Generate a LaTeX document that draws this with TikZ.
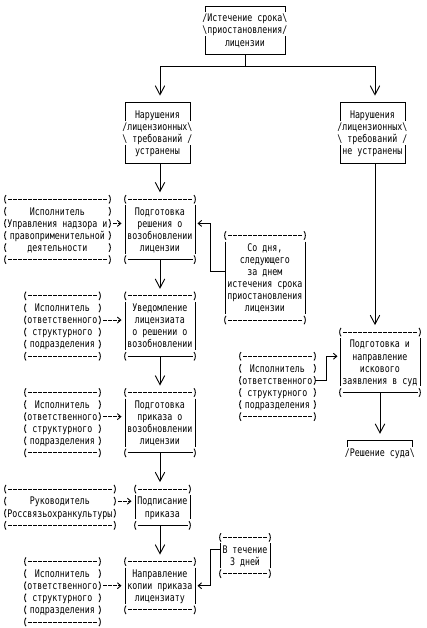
\documentclass[tikz,border=0pt]{standalone}
\usepackage{fontspec}
\usetikzlibrary{arrows.meta}
\newfontfamily\boxfontfam[FakeStretch=0.791]{DejaVu Sans Mono}
\newcommand\boxfont{\boxfontfam\fontsize{10.5pt}{12.077pt}\selectfont}
\newcommand\tstrut{\rule[-2.24pt]{0pt}{12.077pt}}
\newcommand\bxl[1]{\hbox to 0pt{\hss\tstrut#1\hss}}
\newcommand\bsl{\textbackslash}
\tikzset{
  bline/.style={line width=0.9pt},
  dline/.style={line width=0.9pt, dash pattern=on 3.5pt off 1.5pt, dash phase=4.25pt},
  boxnode/.style={rectangle, inner sep=0pt, outer sep=0pt, font=\boxfont},
  varrow/.style={bline, -{Straight Barb[length=9pt,width=9.5pt]}, shorten >=7pt},
  darrow/.style={bline, dash pattern=on 3.5pt off 1.5pt, -{Straight Barb[length=3.5pt,width=6pt]}, shorten <=3.25pt, shorten >=3.5pt},
  larrow/.style={bline, -{Straight Barb[length=3.5pt,width=6pt]}, shorten >=2.5pt}
}
% box node: name, left col, right col, top row, bottom row, lines
\newcommand\bx[6]{\node[boxnode, minimum width={(#3-#2)*5pt}, minimum height={(#5-#4)*12.077pt}] (#1) at ({(#2+#3)/2+1},{(#4+#5)/2+0.5}) {\vbox{\offinterlineskip#6}};}
\newcommand\mypl[2]{\draw[bline] ([shift={(1pt,4.2pt)}]{#1+1},{#2+0.5}) .. controls +(-1.8pt,-2pt) and +(-1.8pt,2pt) .. ([shift={(1pt,-4.2pt)}]{#1+1},{#2+0.5});}
\newcommand\mypr[2]{\draw[bline] ([shift={(-1pt,4.2pt)}]{#1+1},{#2+0.5}) .. controls +(1.8pt,-2pt) and +(1.8pt,2pt) .. ([shift={(-1pt,-4.2pt)}]{#1+1},{#2+0.5});}
\newcommand\execborder[4]{%
  \foreach \rr in {#3,...,#4}{\mypl{#1}{\rr}\mypr{#2}{\rr}}%
  \draw[dline] ({#1+1.5},{#3+0.5}) -- ({#2+0.5},{#3+0.5});
  \draw[dline] ({#1+1.5},{#4+0.5}) -- ({#2+0.5},{#4+0.5});}
\newcommand\chainborder[5]{%
  \mypl{#1}{#3}\mypr{#2}{#3}\mypl{#1}{#4}\mypr{#2}{#4}%
  \draw[dline] ({#1+1.5},{#3+0.5}) -- ({#2+0.5},{#3+0.5});
  \draw[#5] ({#1+1.5},{#4+0.5}) -- ({#2+0.5},{#4+0.5});
  \draw[bline] ({#1+1},{#3+1}) -- ({#1+1},{#4});
  \draw[bline] ({#2+1},{#3+1}) -- ({#2+1},{#4});}
\begin{document}
\begin{tikzpicture}[x=5pt, y=-12.077pt]
\fill[white] (0,0) rectangle (85.4,52);
\useasboundingbox (0,0) rectangle (85.4,52);

% ---- nodes ----
\bx{top}{40}{56}{0}{4}{\bxl{/Истечение срока\bsl}\bxl{\bsl приостановления/}\bxl{лицензии}}
\bx{nl}{24}{37}{8}{13}{\bxl{Нарушения}\bxl{/лицензионных\bsl}\bxl{\bsl{} требований /}\bxl{устранены}}
\bx{nr}{67}{80}{8}{13}{\bxl{Нарушения}\bxl{/лицензионных\bsl}\bxl{\bsl{} требований /}\bxl{не устранены}}
\bx{e1}{0}{21}{16}{21}{\bxl{Исполнитель}\bxl{Управления надзора и}\bxl{правоприменительной}\bxl{деятельности}}
\bx{p1}{24}{38}{16}{21}{\bxl{Подготовка}\bxl{решения о}\bxl{возобновлении}\bxl{лицензии}}
\bx{sd}{44}{60}{19}{26}{\bxl{Со дня,}\bxl{следующего}\bxl{за днем}\bxl{истечения срока}\bxl{приостановления}\bxl{лицензии}}
\bx{e2}{4}{19}{24}{29}{\bxl{Исполнитель}\bxl{ответственного}\bxl{структурного}\bxl{подразделения}}
\bx{p2}{24}{38}{24}{29}{\bxl{Уведомление}\bxl{лицензиата}\bxl{о решении о}\bxl{возобновлении}}
\bx{rb}{67}{83}{27}{32}{\bxl{Подготовка и}\bxl{направление}\bxl{искового}\bxl{заявления в суд}}
\bx{e6}{47}{62}{29}{34}{\bxl{Исполнитель}\bxl{ответственного}\bxl{структурного}\bxl{подразделения}}
\bx{e3}{4}{19}{32}{37}{\bxl{Исполнитель}\bxl{ответственного}\bxl{структурного}\bxl{подразделения}}
\bx{p3}{24}{38}{32}{37}{\bxl{Подготовка}\bxl{приказа о}\bxl{возобновлении}\bxl{лицензии}}
\bx{rs}{68}{82}{36}{38}{\bxl{/Решение суда\bsl}}
\bx{e4}{0}{22}{40}{43}{\bxl{Руководитель}\bxl{Россвязьохранкультуры}}
\bx{p4}{26}{37}{40}{43}{\bxl{Подписание}\bxl{приказа}}
\bx{vt}{43}{53}{44}{47}{\bxl{В течение}\bxl{3 дней}}
\bx{e5}{4}{19}{46}{51}{\bxl{Исполнитель}\bxl{ответственного}\bxl{структурного}\bxl{подразделения}}
\bx{p5}{24}{38}{46}{50}{\bxl{Направление}\bxl{копии приказа}\bxl{лицензиату}}

% ---- borders ----
\draw[bline] (41,1.0) -- (41,0.5) -- (57,0.5) -- (57,1.0);
\draw[bline] (41,3.0) -- (41,4.5) -- (57,4.5) -- (57,3.0);
\draw[bline] (25,10) -- (25,8.5) -- (38,8.5) -- (38,10);
\draw[bline] (25,12) -- (25,13.5) -- (38,13.5) -- (38,12);
\draw[bline] (68,10) -- (68,8.5) -- (81,8.5) -- (81,10);
\draw[bline] (68,12) -- (68,13.5) -- (81,13.5) -- (81,12);
\draw[bline] (69.5,37) -- (69.5,36.5) -- (82.5,36.5) -- (82.5,37);

\execborder{0}{21}{16}{21}
\execborder{4}{19}{24}{29}
\execborder{4}{19}{32}{37}
\execborder{0}{22}{40}{43}
\execborder{4}{19}{46}{51}
\execborder{47}{62}{29}{34}

\chainborder{24}{38}{16}{21}{bline}
\chainborder{24}{38}{24}{29}{bline}
\chainborder{24}{38}{32}{37}{bline}
\chainborder{26}{37}{40}{43}{bline}
\chainborder{24}{38}{46}{50}{dline}
\chainborder{44}{60}{19}{26}{dline}
\chainborder{67}{83}{27}{32}{bline}
\chainborder{43}{53}{44}{47}{dline}

% ---- helper coordinates ----
\coordinate (r5) at (0,5.5);
\coordinate (r18) at (0,18.5);
\coordinate (r22) at (0,22.5);
\coordinate (r26) at (0,26.5);
\coordinate (r29) at (0,29.5);
\coordinate (r31) at (0,31.5);
\coordinate (r34) at (0,34.5);
\coordinate (r41) at (0,41.5);
\coordinate (r45) at (0,45.5);
\coordinate (r48) at (0,48.5);
\coordinate (c41) at (42,0);
\coordinate (c64) at (65.3,0);

% ---- connectors ----
\draw[varrow] (top.south) -- (top.south |- r5) -| ([xshift=2.5pt]nl.north);
\draw[varrow] (top.south) -- (top.south |- r5) -| ([xshift=2.5pt]nr.north);
\draw[varrow] ([xshift=2.5pt]nl.south) -- (p1.north);
\draw[varrow] (p1.south) -- (p2.north);
\draw[varrow] (p2.south) -- (p3.north);
\draw[varrow] (p3.south) -- ([xshift=-2.5pt]p4.north);
\draw[varrow] ([xshift=-2.5pt]p4.south) -- (p5.north);
\draw[varrow] ([xshift=2.5pt]nr.south) -- ([xshift=2.5pt]nr.south |- rb.north);
\draw[varrow] (rb.south) -- (rs.north);

\draw[darrow] (e1.east |- r18) -- (p1.west |- r18);
\draw[darrow] (e2.east |- r26) -- (p2.west |- r26);
\draw[darrow] (e3.east |- r34) -- (p3.west |- r34);
\draw[darrow] (e4.east |- r41) -- (p4.west |- r41);
\draw[darrow] (e5.east |- r48) -- (p5.west |- r48);

\draw[larrow] (sd.west |- r22) -| (c41 |- r18) -- (p1.east |- r18);
\draw[larrow] (vt.west |- r45) -| (c41 |- r48) -- (p5.east |- r48);
\draw[larrow] (e6.east |- r31) -| (c64 |- r29) -- (rb.west |- r29);
\end{tikzpicture}
\end{document}
